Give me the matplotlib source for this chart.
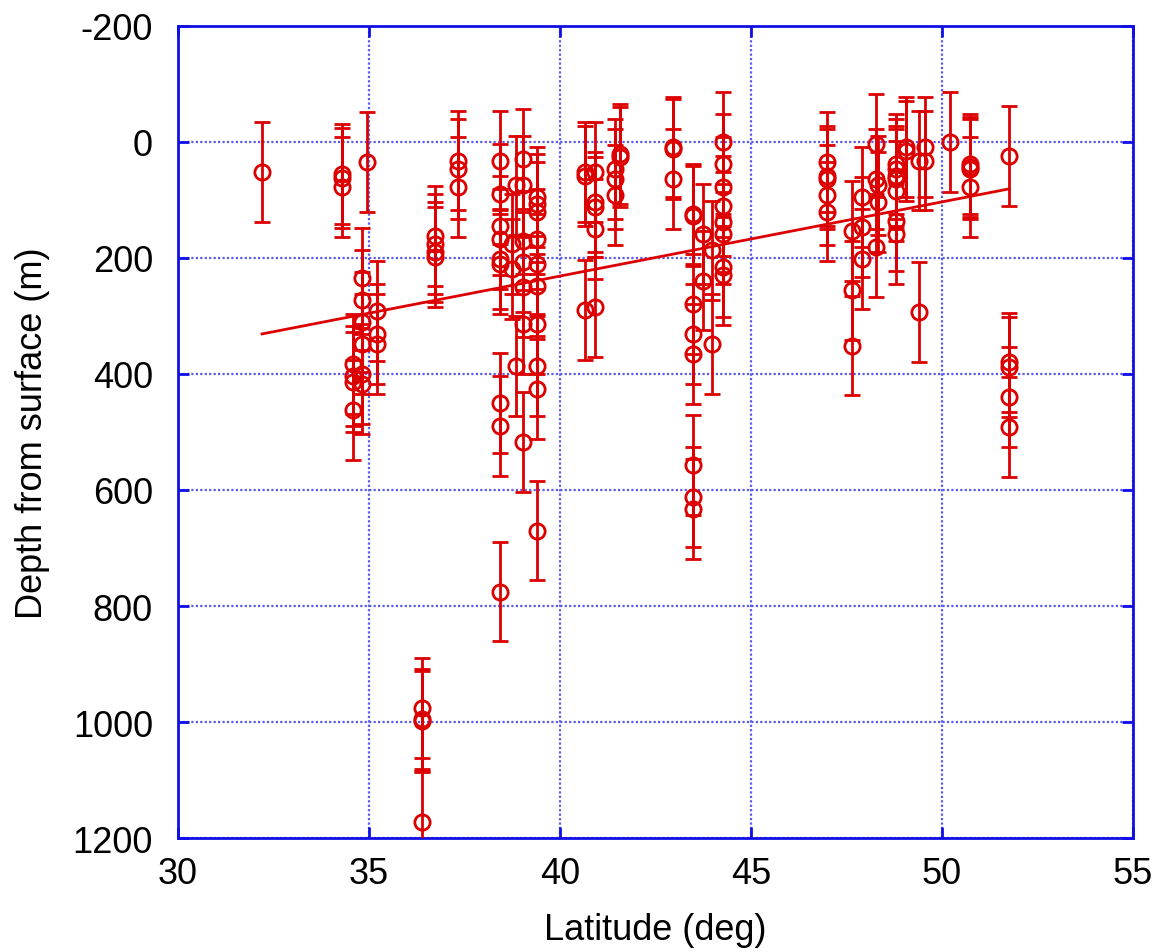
import numpy as np
import matplotlib
matplotlib.use('Agg')
import matplotlib.pyplot as plt

plt.rcParams['font.family'] = ['Liberation Sans', 'DejaVu Sans']
plt.rcParams['axes.unicode_minus'] = False

# latitude (deg) and depth (m), grouped by site
lat = [32.2,
       34.3, 34.3, 34.3, 34.95,
       34.83, 34.83, 34.83, 34.83, 34.58, 34.58, 34.58, 34.83, 34.83, 34.58,
       35.2, 35.2, 35.2,
       36.38, 36.38, 36.38, 36.38,
       36.73, 36.73, 36.73, 36.73,
       37.33, 37.33, 37.33,
       38.43, 38.43, 38.43, 38.43, 38.43, 38.43, 38.43, 38.43, 38.43,
       38.74, 38.74, 38.86, 38.86,
       39.02, 39.02, 39.02, 39.02, 39.02, 39.02, 39.02,
       39.39, 39.39, 39.39, 39.39, 39.39, 39.39, 39.39, 39.39, 39.39, 39.39,
       40.65, 40.65, 40.65,
       40.92, 40.92, 40.92, 40.92, 40.92,
       41.44, 41.44, 41.44, 41.57, 41.57,
       42.96, 42.96, 42.96,
       43.48, 43.48, 43.48, 43.48, 43.48, 43.48, 43.48, 43.48,
       43.74, 43.74, 43.97, 43.97,
       44.27, 44.27, 44.27, 44.27, 44.27, 44.27, 44.27, 44.27,
       46.98, 46.98, 46.98, 46.98, 46.98,
       47.64, 47.64, 47.64, 47.9, 47.9, 47.9,
       48.27, 48.27, 48.32, 48.32, 48.27,
       48.8, 48.8, 48.8, 48.8, 48.8, 48.8, 48.8, 49.07, 49.07,
       49.4, 49.4, 49.56, 49.56,
       50.21,
       50.73, 50.73, 50.73, 50.73,
       51.75, 51.75, 51.75, 51.75, 51.75]
depth = [52,
         55, 62, 78, 35,
         234, 273, 310, 348, 383, 403, 414, 400, 417, 462,
         291, 331, 348,
         976, 995, 998, 1172,
         162, 176, 190, 198,
         32, 47, 78,
         32, 90, 144, 167, 202, 210, 450, 490, 775,
         176, 219, 75, 386,
         29, 75, 170, 207, 250, 314, 517,
         95, 107, 121, 167, 210, 248, 314, 386, 426, 670,
         52, 58, 290,
         52, 103, 112, 150, 284,
         47, 64, 92, 21, 26,
         9, 12, 64,
         124, 127, 279, 331, 366, 557, 612, 633,
         159, 239, 187, 348,
         0, 38, 78, 110, 138, 159, 216, 230,
         35, 58, 64, 92, 120,
         153, 256, 351, 95, 147, 202,
         3, 64, 75, 103, 181,
         38, 47, 58, 64, 84, 136, 159, 9, 15,
         32, 293, 9, 32,
         0,
         38, 43, 47, 78,
         24, 380, 388, 440, 491]
err = 86

# linear fit shown in the chart: depth = a + b * lat
fit_a = 742.8
fit_b = -12.79

red = '#dd0000'
blue = '#1010e6'

fig = plt.figure(figsize=(11.73, 9.53), dpi=100)
ax = fig.add_axes([0.1517, 0.1196, 0.8142, 0.8521])

ax.errorbar(lat, depth, yerr=err, fmt='o', mfc='none', mec=red, ms=11, mew=2,
            ecolor=red, elinewidth=2, capsize=5.5, capthick=2, zorder=3)

xl = np.array([min(lat), max(lat)])
ax.plot(xl, fit_a + fit_b * xl, color=red, lw=2, zorder=3)

ax.set_xlim(30, 55)
ax.set_ylim(1200, -200)
ax.set_xticks(np.arange(30, 56, 5))
ax.set_yticks(np.arange(-200, 1201, 200))
ax.grid(True, color='#5a5aee', linestyle=(0, (1, 1)), linewidth=1.6)
ax.set_axisbelow(True)

for s in ax.spines.values():
    s.set_color(blue)
    s.set_linewidth(2)
ax.tick_params(direction='in', length=8, width=2, color=blue,
               top=True, right=True, labelsize=26)
ax.tick_params(axis='y', pad=18)
ax.tick_params(axis='x', pad=13)

ax.set_xlabel('Latitude (deg)', fontsize=26, labelpad=15)
ax.set_ylabel('Depth from surface (m)', fontsize=26, labelpad=16)

fig.savefig('out.png', dpi=100)
